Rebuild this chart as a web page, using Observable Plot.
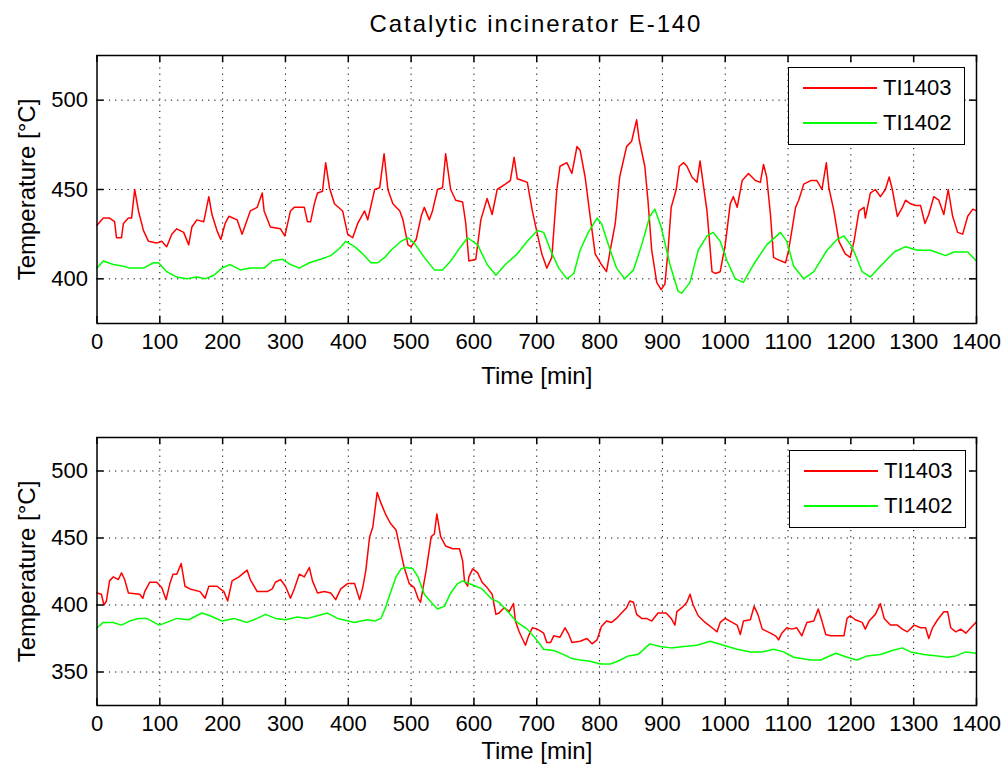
<!DOCTYPE html>
<html><head><meta charset="utf-8">
<script src="https://cdn.jsdelivr.net/npm/d3@7"></script>
<script src="https://cdn.jsdelivr.net/npm/@observablehq/plot@0.6"></script>
<style>
body{margin:0;background:#fff;}
#wrap{position:relative;width:1007px;height:769px;font-family:"Liberation Sans",Arial,sans-serif;color:#000;overflow:hidden;}
#title{position:absolute;left:96px;width:880px;top:10px;text-align:center;font-size:24px;line-height:28px;letter-spacing:1.9px;}
.panel{position:absolute;left:0;}
.legend{position:absolute;border:1.5px solid #000;background:#fff;box-sizing:border-box;}
.legend .ln{position:absolute;height:1.6px;}
.legend .tx{position:absolute;font-size:22px;line-height:24px;}
</style>
</head><body>
<div id="wrap">
  <div id="title"></div>
</div>
<script>
const titleText = "Catalytic incinerator E-140";
const seriesNames = ["TI1403", "TI1402"];
const seriesColors = ["#ff0000", "#00ff00"];
const xTicks = [0,100,200,300,400,500,600,700,800,900,1000,1100,1200,1300,1400];
const topYTicks = [400,450,500];
const botYTicks = [350,400,450,500];

// Top panel, TI1403
const topRedT = [0,10,20,28,31,39,42,50,55,60,66,74,82,95,103,111,119,127,138,146,151,159,170,178,183,191,197,204,210,223,231,236,244,255,263,266,276,292,299,308,314,330,335,340,346,351,359,364,370,378,391,399,407,415,426,431,442,450,457,463,471,482,487,495,500,508,516,521,529,534,542,550,555,563,571,582,587,592,603,611,621,629,637,650,658,664,669,677,685,693,701,708,716,724,732,737,748,756,764,769,777,785,793,803,811,817,825,832,843,851,859,863,872,877,883,891,898,904,909,914,922,927,934,939,947,955,960,965,971,979,984,992,1000,1008,1013,1019,1027,1037,1048,1056,1061,1066,1072,1077,1082,1096,1101,1112,1117,1125,1136,1146,1154,1161,1165,1173,1181,1191,1199,1205,1213,1221,1223,1231,1239,1247,1255,1261,1266,1274,1282,1287,1295,1303,1311,1318,1324,1332,1340,1348,1355,1362,1370,1378,1386,1394,1400];
const topRedV = [430,434,434,432,423,423,431,434,434,450,438,427,421,420,421,418,425,428,426,419,429,433,432,446,436,427,422,431,435,433,425,430,438,440,448,438,429,428,424,438,440,440,432,432,442,448,449,465,451,442,438,425,423,431,438,433,450,451,470,450,442,438,433,419,418,422,435,440,433,438,450,451,470,450,444,443,431,410,411,433,445,436,450,453,455,468,456,455,454,438,425,414,406,412,450,463,465,459,474,472,457,435,414,408,404,416,431,457,474,477,489,478,463,444,416,398,394,397,416,440,450,463,465,463,457,454,466,453,438,404,403,404,419,442,446,440,455,459,455,454,464,457,436,412,411,409,416,440,444,453,455,455,450,465,451,438,421,414,412,421,438,440,434,448,450,446,450,457,450,435,440,444,442,441,441,431,436,446,444,436,450,435,426,425,435,439,438];
// Top panel, TI1402
const topGreenT = [0,10,26,42,52,74,90,98,111,127,143,159,172,186,199,212,228,244,266,279,295,308,322,338,356,372,386,396,410,423,436,447,458,468,484,495,505,521,537,550,563,579,590,606,621,635,650,669,685,701,711,722,735,748,759,769,782,796,803,817,827,840,854,867,880,888,898,912,925,931,944,957,971,981,992,1003,1016,1029,1045,1066,1088,1098,1109,1125,1141,1162,1178,1189,1202,1218,1231,1247,1269,1287,1306,1327,1351,1364,1386,1400];
const topGreenV = [406,410,408,407,406,406,409,409,404,401,400,401,400,402,406,408,405,406,406,410,411,408,406,409,411,413,417,421,418,414,409,409,412,416,421,423,420,412,405,405,410,418,423,419,408,402,408,414,421,427,426,416,406,400,403,416,426,434,431,416,406,400,405,419,435,439,429,408,393,392,398,416,424,426,421,410,400,398,408,419,426,421,407,400,404,416,422,424,418,404,401,407,415,418,416,416,413,415,415,410];

// Bottom panel, TI1403
const botRedT = [0,7,11,15,20,26,34,39,44,50,68,73,76,84,95,103,110,116,121,127,134,140,148,164,172,178,191,202,208,215,226,239,244,255,271,279,284,292,300,308,314,322,330,338,343,351,362,372,380,388,399,410,418,423,428,434,439,446,452,460,467,476,482,489,497,505,511,515,518,524,532,537,541,547,555,566,577,582,585,590,592,598,606,613,621,629,635,640,648,656,663,666,672,677,682,687,693,701,711,716,722,727,737,745,751,756,769,780,788,796,803,811,819,827,835,843,848,854,859,867,875,883,893,906,914,920,923,931,939,944,949,957,968,979,987,992,1000,1011,1019,1024,1029,1040,1046,1052,1059,1072,1080,1085,1090,1098,1106,1114,1122,1130,1141,1148,1154,1160,1168,1189,1194,1199,1207,1218,1223,1229,1239,1247,1253,1263,1274,1282,1290,1301,1311,1319,1324,1330,1338,1348,1354,1359,1367,1375,1383,1391,1399];
const botRedV = [409,408,400,403,418,421,419,424,419,409,408,405,410,417,417,413,404,416,423,423,431,414,412,410,405,414,414,410,403,418,421,426,419,410,410,412,417,419,414,405,412,423,421,428,418,409,410,409,404,412,416,416,404,413,426,451,458,484,476,467,461,456,443,428,416,413,405,402,410,426,451,453,468,451,444,442,442,433,418,414,421,427,424,417,413,408,393,394,398,395,401,388,380,375,370,377,383,382,379,372,372,377,376,383,378,372,373,375,371,374,384,388,387,390,394,398,403,402,393,390,390,388,394,394,390,385,395,398,402,408,400,392,387,383,380,387,390,387,385,378,388,389,399,393,382,379,377,374,379,383,382,383,377,387,388,397,388,378,377,377,390,392,389,387,382,388,393,401,390,385,385,382,380,385,383,383,375,383,389,395,395,383,380,382,379,383,387];
// Bottom panel, TI1402
const botGreenT = [0,10,26,39,52,66,79,99,116,127,146,167,180,199,218,239,255,268,284,300,319,335,351,367,383,410,420,431,442,452,460,467,476,484,492,503,511,521,532,542,553,563,574,582,592,603,613,627,640,656,669,685,698,711,727,743,756,769,785,801,817,829,846,861,880,896,914,934,955,976,997,1019,1040,1059,1077,1093,1109,1136,1152,1176,1194,1210,1226,1247,1266,1282,1295,1316,1338,1354,1367,1383,1400];
const botGreenV = [383,387,387,385,388,390,390,385,388,390,389,394,392,388,390,387,390,393,390,389,391,390,392,394,390,387,388,389,388,390,399,409,421,427,428,427,421,408,402,397,399,409,416,418,416,414,412,405,402,394,387,382,375,367,366,363,360,359,358,356,356,358,362,363,371,369,368,369,370,373,370,367,365,365,367,365,361,359,359,364,361,359,362,363,366,368,365,363,362,361,362,365,364];

const FONT = '"Liberation Sans", Arial, sans-serif';
const W = 1007, ML = 96.5, MR = 31;

function rows(T, V) { return T.map((t, i) => ({t, v: V[i]})); }

function panel(top, height, mt, mb, yDomain, yTicks, redT, redV, greenT, greenV, legendPos, xLabelDy) {
  const fh = height - mt - mb;
  const fw = W - ML - MR;
  const grid = {stroke: "#000", strokeOpacity: 1, strokeWidth: 1, strokeDasharray: "1.2,5"};
  const svg = Plot.plot({
    width: W, height, marginLeft: ML, marginRight: MR, marginTop: mt, marginBottom: mb,
    style: {fontFamily: FONT, fontSize: "22px", color: "#000", background: "transparent", overflow: "visible"},
    x: {domain: [0, 1400]},
    y: {domain: yDomain},
    marks: [
      Plot.gridX(xTicks.slice(1, -1), grid),
      Plot.gridY(yTicks, grid),
      Plot.line(rows(redT, redV), {x: "t", y: "v", stroke: seriesColors[0], strokeWidth: 1.5}),
      Plot.line(rows(greenT, greenV), {x: "t", y: "v", stroke: seriesColors[1], strokeWidth: 1.5}),
      Plot.tickX(xTicks, {x: d => d, insetTop: fh - 7, stroke: "#000", strokeWidth: 1.5}),
      Plot.tickX(xTicks, {x: d => d, insetBottom: fh - 7, stroke: "#000", strokeWidth: 1.5}),
      Plot.tickY(yTicks, {y: d => d, insetLeft: fw - 7, stroke: "#000", strokeWidth: 1.5}),
      Plot.tickY(yTicks, {y: d => d, insetRight: fw - 7, stroke: "#000", strokeWidth: 1.5}),
      Plot.frame({stroke: "#000", strokeWidth: 1.5}),
      Plot.axisX(xTicks, {tickSize: 0, tickPadding: 10, tickFormat: d => String(d), label: null, fontSize: 22}),
      Plot.axisY(yTicks, {tickSize: 0, tickPadding: 9, tickFormat: d => String(d), label: null, fontSize: 22}),
      Plot.text(["Time [min]"], {frameAnchor: "bottom", text: d => d, dy: xLabelDy, lineAnchor: "top", textAnchor: "middle", fontSize: 24}),
      Plot.text(["Temperature [°C]"], {frameAnchor: "left", text: d => d, rotate: -90, dx: -70, textAnchor: "middle", lineAnchor: "middle", fontSize: 24})
    ]
  });
  svg.classList.add("panel");
  svg.style.top = top + "px";
  document.getElementById("wrap").appendChild(svg);

  const lg = document.createElement("div");
  lg.className = "legend";
  Object.assign(lg.style, {left: legendPos[0] + "px", top: legendPos[1] + "px", width: "177px", height: "78px"});
  seriesNames.forEach((name, i) => {
    const y = 20 + i * 35;
    const ln = document.createElement("div");
    ln.className = "ln";
    Object.assign(ln.style, {left: "14px", width: "74px", top: (y - 1) + "px", background: seriesColors[i]});
    const tx = document.createElement("div");
    tx.className = "tx";
    tx.textContent = name;
    Object.assign(tx.style, {left: "94px", top: (y - 12) + "px"});
    lg.appendChild(ln); lg.appendChild(tx);
  });
  document.getElementById("wrap").appendChild(lg);
}

document.getElementById("title").textContent = titleText;
panel(0, 390, 55, 67, [375, 525], topYTicks, topRedT, topRedV, topGreenT, topGreenV, [788, 67], 43);
panel(390, 379, 47, 64, [325, 525], botYTicks, botRedT, botRedV, botGreenT, botGreenV, [789, 450], 36);
</script>
</body></html>
